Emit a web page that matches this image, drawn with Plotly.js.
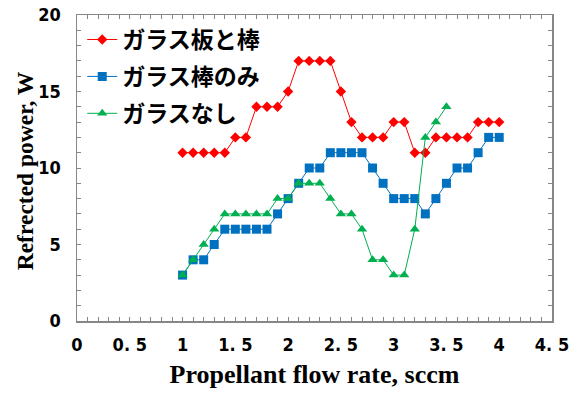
<!DOCTYPE html>
<html>
<head>
<meta charset="utf-8">
<script src="https://cdn.plot.ly/plotly-3.0.1.min.js"></script>
<style>html,body{margin:0;padding:0;background:#fff}#chart{width:575px;height:396px}</style>
</head>
<body>
<div id="chart"></div>
<script>
const flowA = [1.0,1.1,1.2,1.3,1.4,1.5,1.6,1.7,1.8,1.9,2.0,2.1,2.2,2.3,2.4,2.5,2.6,2.7,2.8,2.9,3.0,3.1,3.2,3.3,3.4,3.5,3.6,3.7,3.8,3.9,4.0];
const plateAndRod = [11,11,11,11,11,12,12,14,14,14,15,17,17,17,17,15,13,12,12,12,13,13,11,11,12,12,12,12,13,13,13];
const rodOnly     = [3,4,4,5,6,6,6,6,6,7,8,9,10,10,11,11,11,11,10,9,8,8,8,7,8,9,10,10,11,12,12];
const flowB = [1.0,1.1,1.2,1.3,1.4,1.5,1.6,1.7,1.8,1.9,2.0,2.1,2.2,2.3,2.4,2.5,2.6,2.7,2.8,2.9,3.0,3.1,3.2,3.3,3.4,3.5];
const noGlass = [3,4,5,6,7,7,7,7,7,8,8,9,9,9,8,7,7,6,4,4,3,3,6,12,13,14];
const seriesNames = ['ガラス板と棒','ガラス棒のみ','ガラスなし'];
const xTickVals = [0,0.5,1,1.5,2,2.5,3,3.5,4,4.5];
const xTickText = ['0','0. 5','1','1. 5','2','2. 5','3','3. 5','4','4. 5'];
const yTickVals = [0,5,10,15,20];
const xTitle = 'Propellant flow rate, sccm';
const yTitle = 'Refrected power, W';

const tickFont = {family:'"Liberation Sans Narrow", "DejaVu Sans Condensed", Arial, sans-serif', size:18, color:'#000', weight:'bold'};
const xTitleFont = {family:'"Liberation Serif", "Times New Roman", serif', size:26, color:'#000', weight:'bold'};
const yTitleFont = {family:'"Liberation Serif", "Times New Roman", serif', size:23.5, color:'#000', weight:'bold'};

const traces = [
  {x:flowA, y:plateAndRod, name:seriesNames[0], legendgroup:'a', type:'scatter', mode:'lines+markers',
   line:{color:'#FF0000', width:1}, marker:{symbol:'diamond', size:8, color:'#FF0000'}},
  {x:flowA, y:rodOnly, name:seriesNames[1], legendgroup:'b', type:'scatter', mode:'lines+markers',
   line:{color:'#0070C0', width:1}, marker:{symbol:'square', size:9, color:'#0070C0'}},
  {x:flowB, y:noGlass, name:seriesNames[2], legendgroup:'c', type:'scatter', mode:'lines+markers',
   line:{color:'#00B050', width:1}, marker:{symbol:'triangle-up', size:9, color:'#00B050'}}
];

const axisCommon = {
  showgrid:false, zeroline:false, showline:true, linecolor:'#878787', linewidth:1.5,
  mirror:'ticks', ticks:'inside', ticklen:4, tickcolor:'#878787', tickwidth:1,
  tickfont:tickFont
};

const layout = {
  width:575, height:396,
  margin:{l:76.5, r:22.5, t:15.4, b:75.2},
  paper_bgcolor:'#fff', plot_bgcolor:'#fff',
  showlegend:true,
  legend:{x:0.011, y:0.99, xanchor:'left', yanchor:'top', bgcolor:'rgba(0,0,0,0)',
          font:{family:'"Noto Sans CJK JP", sans-serif', size:23, color:'#000', weight:'bold'},
          tracegroupgap:4, itemwidth:30},
  xaxis:Object.assign({}, axisCommon, {
    range:[0,4.5], tickmode:'array', tickvals:xTickVals, ticktext:xTickText,
    minor:{dtick:0.1, ticks:'inside', ticklen:4, tickcolor:'#878787', showgrid:false},
    ticklabelstandoff:7,
    title:{text:xTitle, font:xTitleFont, standoff:10}
  }),
  yaxis:Object.assign({}, axisCommon, {
    range:[0,20], tickmode:'array', tickvals:yTickVals,
    minor:{dtick:1, ticks:'inside', ticklen:4, tickcolor:'#878787', showgrid:false},
    ticklabelstandoff:11,
    title:{text:''}
  }),
  annotations:[{
    text:yTitle, font:yTitleFont, textangle:-90, showarrow:false,
    xref:'paper', yref:'paper', x:-0.109, y:0.49, xanchor:'center', yanchor:'middle'
  }]
};

Plotly.newPlot('chart', traces, layout, {displayModeBar:false, staticPlot:true});
</script>
</body>
</html>
